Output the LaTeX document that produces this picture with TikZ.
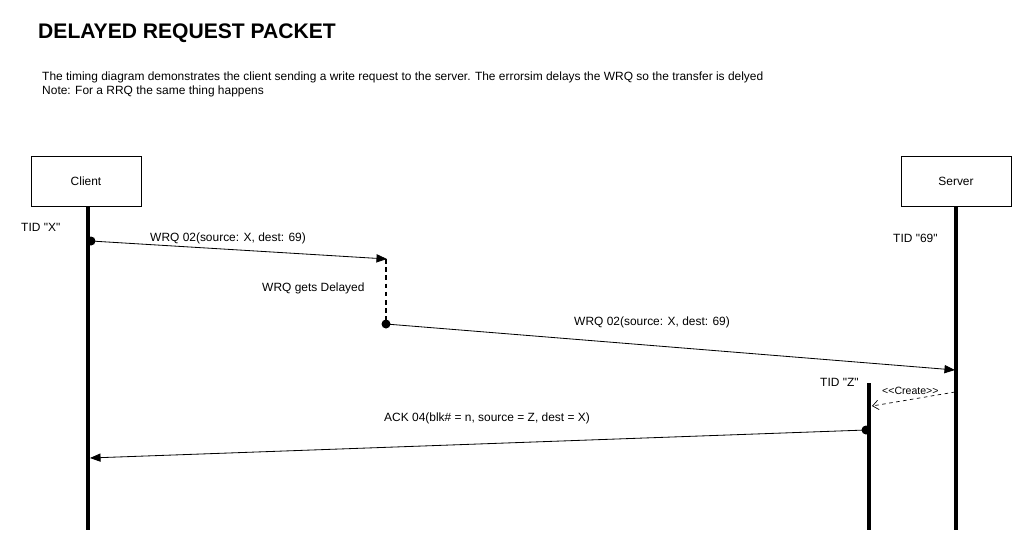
\documentclass[tikz,border=0pt]{standalone}
\usepackage{fontspec}
\setmainfont{Liberation Sans}[Ligatures=TeXOff]
\usetikzlibrary{arrows.meta}

\tikzset{
  actor/.style={draw, minimum width=3.3cm, minimum height=1.5cm, font=\fontsize{10.2}{12}\selectfont},
  lifeline/.style={line width=3.4pt},
  msg/.style={line width=0.7pt, -{Triangle[length=9pt,width=7pt]}},
  delay/.style={line width=1.6pt, dash pattern=on 4pt off 3pt},
  create/.style={line width=0.6pt, dashed, -{Straight Barb[length=5pt,width=8pt]}},
  lbl/.style={anchor=base west, inner sep=0pt, font=\fontsize{10.2}{12}\selectfont},
  dot/.style={fill=black}
}

\begin{document}
\begin{tikzpicture}[x=0.03cm, y=-0.03cm]
\useasboundingbox (0,0) rectangle (1013,533);

\node[anchor=base west, inner sep=0pt, font=\bfseries\fontsize{18}{21}\selectfont] (title) at (38,38) {DELAYED REQUEST PACKET};
\node[lbl] (desc1) at (42,80) {The timing diagram demonstrates the client sending a write request to the server. The errorsim delays the WRQ so the transfer is delyed};
\node[lbl] (desc2) at (42,94) {Note: For a RRQ the same thing happens};

\node[actor] (client) at (86,181) {Client};
\node[actor] (server) at (956,181) {Server};

\coordinate (cbot) at (88,530);
\coordinate (sbot) at (956,530);
\coordinate (ztop) at (869,383);
\coordinate (zbot) at (869,530);
\draw[lifeline] (client.south -| cbot) -- (cbot);
\draw[lifeline] (server.south) -- (sbot);
\draw[lifeline] (ztop) -- (zbot);

\node[lbl] (tidx) at (21,231) {TID "X"};
\node[lbl] (tid69) at (893,242) {TID "69"};
\node[lbl] (tidz) at (820,386) {TID "Z"};

% WRQ from client, then held back
\coordinate (m1s) at (91,241);
\coordinate (m1e) at (387,259);
\coordinate (m2s) at (386,324);
\coordinate (m2e) at (955,370);
\draw[msg] (m1s) -- (m1e);
\fill[dot] (m1s) circle (4.5);
\node[lbl] (m1l) at (150,241) {WRQ 02(source: X, dest: 69)};

\draw[delay] (m1e -| m2s) -- (m2s);
\node[lbl] (dl) at (262,291) {WRQ gets Delayed};

\draw[msg] (m2s) -- (m2e);
\fill[dot] (m2s) circle (4.5);
\node[lbl] (m2l) at (574,325) {WRQ 02(source: X, dest: 69)};

% new thread
\coordinate (cs) at (955,392);
\coordinate (ce) at (872,406);
\draw[create] (cs) -- (ce);
\node[lbl, font=\fontsize{9}{10}\selectfont] (cl) at (882,394) {<<Create>>};

% ACK back to client
\coordinate (as) at (866,430);
\coordinate (ae) at (90,458);
\draw[msg] (as) -- (ae);
\fill[dot] (as) circle (4.5);
\node[lbl] (al) at (384,421) {ACK 04(blk\# = n, source = Z, dest = X)};

\end{tikzpicture}
\end{document}
